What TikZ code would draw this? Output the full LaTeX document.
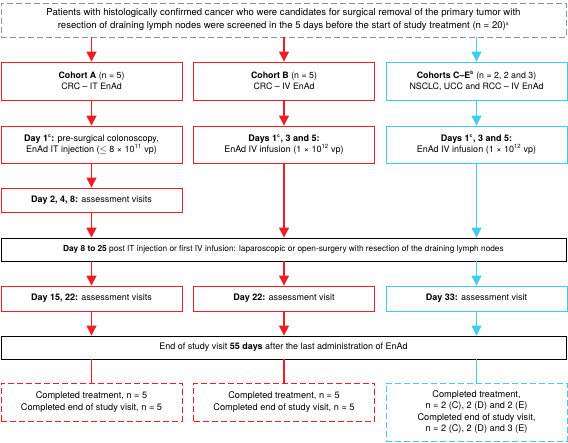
\documentclass[tikz,border=0pt]{standalone}
\usepackage{fontspec}
\setmainfont{TeX Gyre Heros}
\usetikzlibrary{arrows.meta}

\definecolor{flowred}{RGB}{240,30,36}
\definecolor{flowcyan}{RGB}{60,205,240}
\definecolor{flowgray}{RGB}{140,150,150}

\tikzset{
  box/.style={draw, line width=0.9pt, minimum width=181pt, align=center,
    inner sep=0pt, font=\fontsize{9}{11.5}\selectfont},
  redbox/.style={box, draw=flowred},
  cyanbox/.style={box, draw=flowcyan},
  widebox/.style={box, draw=black, minimum width=565pt, minimum height=23pt},
  dashbox/.style={dashed, dash pattern=on 6pt off 3pt},
  flow/.style={-{Triangle[length=10pt,width=10pt]}, line width=1.2pt},
  finish/.style={line width=1.2pt},
}

\begin{document}
\begin{tikzpicture}[x=1pt, y=-1pt]
      \useasboundingbox (0,0) rectangle (568,443);

      % screening of all patients
      \node[box, draw=flowgray, dashbox, minimum width=565pt, minimum height=34pt,
        font=\fontsize{9.6}{13}\selectfont] (screen) at (283.5,20)
        {Patients with histologically confirmed cancer who were candidates for surgical removal of the primary tumor with\\
         resection of draining lymph nodes were screened in the 5 days before the start of study treatment (n = 20)\textsuperscript{\tiny a}};

      % The three cohorts.
      \node[redbox, minimum height=38pt, font=\fontsize{8.8}{11}\selectfont] (cohortA) at (91.5,81)
        {\textbf{Cohort A} (n = 5)\\CRC -- IT EnAd};
      \node[redbox, minimum height=38pt, font=\fontsize{8.8}{11}\selectfont] (cohortB) at (284,81)
        {\textbf{Cohort B} (n = 5)\\CRC -- IV EnAd};
      \node[cyanbox, minimum height=38pt, font=\fontsize{8.8}{11}\selectfont] (cohortC) at (476.5,81)
        {\textbf{Cohorts C--E\textsuperscript{\tiny b}} (n = 2, 2 and 3)\\NSCLC, UCC and RCC -- IV EnAd};

      % Dosing on day 1 (and 3, 5).
      \node[redbox, minimum height=37pt] (doseA) at (91.5,144.5)
        {\textbf{Day 1\textsuperscript{\tiny c}:} pre-surgical colonoscopy,\\EnAd IT injection ($\leq$ 8 × 10\textsuperscript{11} vp)};
      \node[redbox, minimum height=37pt] (doseB) at (284,144.5)
        {\textbf{Days 1\textsuperscript{\tiny c}, 3 and 5:}\\EnAd IV infusion (1 × 10\textsuperscript{12} vp)};
      \node[cyanbox, minimum height=37pt] (doseC) at (476.5,144.5)
        {\textbf{Days 1\textsuperscript{\tiny c}, 3 and 5:}\\EnAd IV infusion (1 × 10\textsuperscript{12} vp)};

      % Early visits, cohort A only.
      \node[redbox, minimum height=24pt] (earlyA) at (91.5,200)
        {\textbf{Day 2, 4, 8:} assessment visits};

      % Surgery for every cohort.
      \node[widebox, font=\fontsize{8.3}{10}\selectfont] (surgery) at (283.5,249.5)
        {\textbf{Day 8 to 25} post IT injection or first IV infusion: laparoscopic or open-surgery with resection of the draining lymph nodes};

      % Visits after surgery.
      \node[redbox, minimum height=25pt] (visitA) at (91.5,298.5)
        {\textbf{Day 15, 22:} assessment visits};
      \node[redbox, minimum height=25pt] (visitB) at (284,298.5)
        {\textbf{Day 22:} assessment visit};
      \node[cyanbox, minimum height=25pt] (visitC) at (476.5,298.5)
        {\textbf{Day 33:} assessment visit};

      \node[widebox] (endstudy) at (283.5,347.5)
        {End of study visit \textbf{55 days} after the last administration of EnAd};

      % Completion of the study.
      \node[redbox, dashbox, minimum height=38pt, font=\fontsize{9.2}{12}\selectfont] (doneA) at (91.5,402)
        {Completed treatment, n = 5\\Completed end of study visit, n = 5};
      \node[redbox, dashbox, minimum height=38pt, font=\fontsize{9.2}{12}\selectfont] (doneB) at (284,402)
        {Completed treatment, n = 5\\Completed end of study visit, n = 5};
      \node[cyanbox, dashbox, minimum height=58pt, font=\fontsize{9.2}{11.3}\selectfont] (doneC) at (476.5,412)
        {Completed treatment,\\n = 2 (C), 2 (D) and 2 (E)\\Completed end of study visit,\\n = 2 (C), 2 (D) and 3 (E)};

      % Cohort A arrows.
      \draw[flow, flowred] (screen.south -| cohortA) -- (cohortA);
      \draw[flow, flowred] (cohortA) -- (doseA);
      \draw[flow, flowred] (doseA) -- (earlyA);
      \draw[flow, flowred] (earlyA) -- (surgery.north -| earlyA);
      \draw[flow, flowred] (surgery.south -| visitA) -- (visitA);
      \draw[flow, flowred] (visitA) -- (endstudy.north -| visitA);
      \draw[finish, flowred] (endstudy.south -| doneA) -- (doneA);

      % Cohort B arrows.
      \draw[flow, flowred] (screen.south -| cohortB) -- (cohortB);
      \draw[flow, flowred] (cohortB) -- (doseB);
      \draw[flow, flowred] (doseB) -- (surgery.north -| doseB);
      \draw[flow, flowred] (surgery.south -| visitB) -- (visitB);
      \draw[flow, flowred] (visitB) -- (endstudy.north -| visitB);
      \draw[finish, flowred] (endstudy.south -| doneB) -- (doneB);

      % Cohorts C-E arrows.
      \draw[flow, flowcyan] (screen.south -| cohortC) -- (cohortC);
      \draw[flow, flowcyan] (cohortC) -- (doseC);
      \draw[flow, flowcyan] (doseC) -- (surgery.north -| doseC);
      \draw[flow, flowcyan] (surgery.south -| visitC) -- (visitC);
      \draw[flow, flowcyan] (visitC) -- (endstudy.north -| visitC);
      \draw[finish, flowcyan] (endstudy.south -| doneC) -- (doneC);
\end{tikzpicture}
\end{document}
